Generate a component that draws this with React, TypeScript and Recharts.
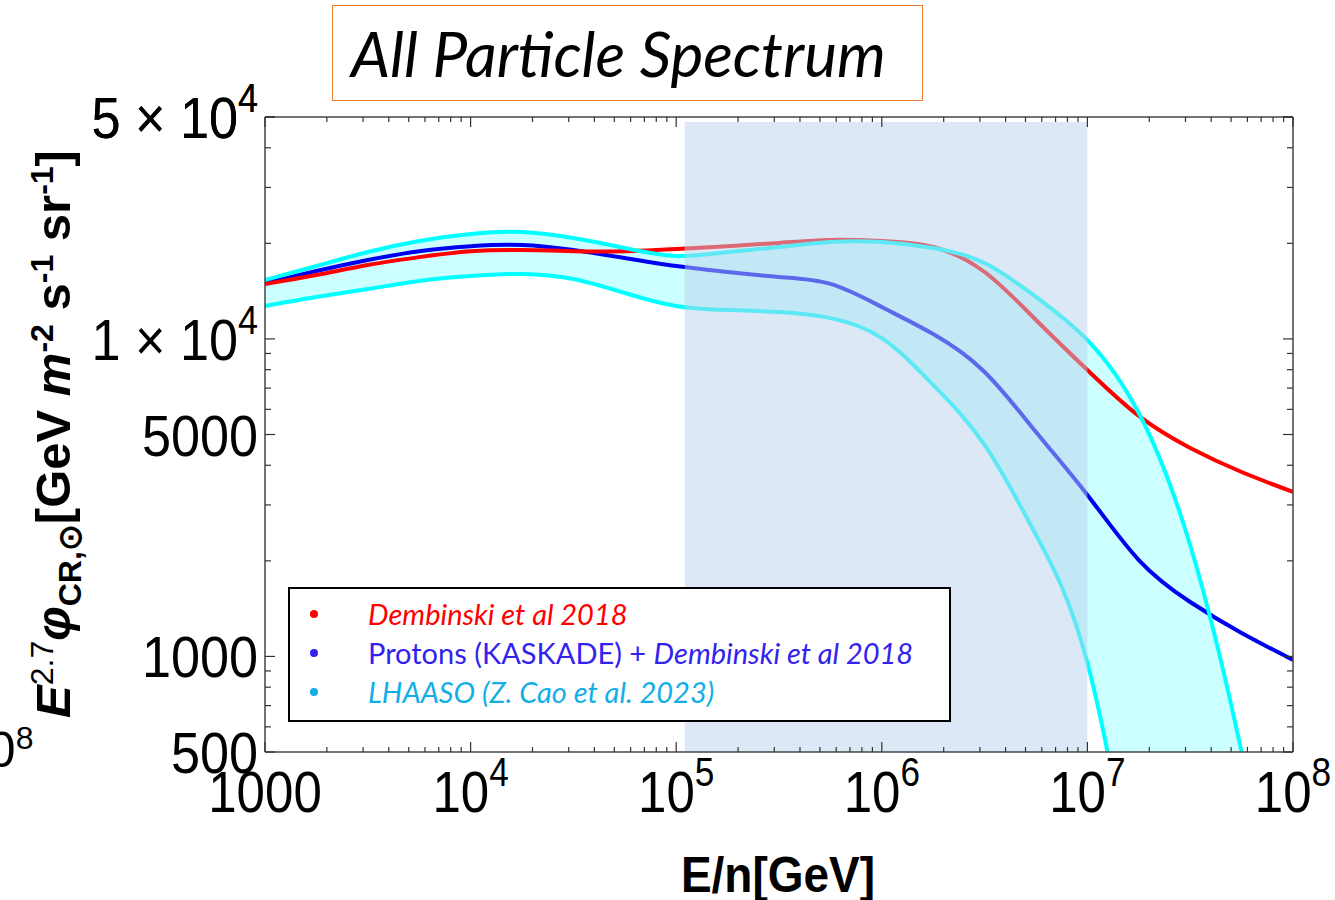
import { ComposedChart, Line, Area, XAxis, YAxis, ReferenceArea } from 'recharts';

// energy grid (GeV per nucleon), quarter-decade steps
const energy = [1000, 1778, 3162, 5623, 10000, 17783, 31623, 56234, 100000, 177828, 316228, 562341, 1000000, 1778279, 3162278, 5623413, 10000000, 17782794, 31622777, 56234133, 100000000];

// E^2.7 * flux
const dembinski = [14900, 15900, 17100, 18100, 18900, 19060, 18900, 18900, 19200, 19600, 20060, 20500, 20350, 19480, 16250, 11470, 7980, 5720, 4535, 3810, 3296];
const protons = [15000, 16370, 17720, 18900, 19600, 19770, 19060, 17980, 16970, 16250, 15660, 14900, 12600, 10360, 7870, 5090, 3225, 2012, 1484, 1185, 975];
const lhaasoHigh = [15330, 16970, 18780, 20350, 21400, 21720, 20800, 19340, 18250, 18780, 19480, 20200, 20200, 19340, 17340, 13560, 9920, 5845, 2240, 500, 77];
const lhaasoLow = [12700, 13560, 14360, 15220, 15780, 16010, 15440, 13950, 12700, 12330, 12150, 11630, 10060, 7160, 4635, 2413, 953, 148, 19, 2.2, 0.25];

// shaded energy window
const bandStart = 110000;
const bandEnd = 10000000;

const xMajor = [1000, 10000, 100000, 1000000, 10000000, 100000000];
const xMajorLabels = ['1000', '10^4', '10^5', '10^6', '10^7', '10^8'];
const yMajor = [500, 1000, 5000, 10000, 50000];
const yMajorLabels = ['500', '1000', '5000', '1 × 10^4', '5 × 10^4'];

const xTicks: number[] = [];
xMajor.slice(0, -1).forEach((m) => {
  for (let k = 1; k < 10; k++) xTicks.push(m * k);
});
xTicks.push(100000000);

const yTicks: number[] = [];
[100, 1000, 10000].forEach((m) => {
  for (let k = 1; k < 10; k++) {
    const v = m * k;
    if (v >= 500 && v <= 50000) yTicks.push(v);
  }
});
yTicks.push(50000);

const data = energy.map((e, i) => ({
  e,
  red: dembinski[i],
  blue: protons[i],
  hi: lhaasoHigh[i],
  lo: lhaasoLow[i],
}));

const tickFont = 'Liberation Sans, Arial, sans-serif';
const tickColor = '#333';

const renderLabel = (label: string, anchor: 'middle' | 'end') => {
  const parts = label.split('^');
  return (
    <text x={0} y={0} textAnchor={anchor} fontSize={58} fontFamily={tickFont} fill="#000">
      {parts[0]}
      {parts[1] && (
        <tspan dy={-26} fontSize={40}>
          {parts[1]}
        </tspan>
      )}
    </text>
  );
};

const XTickBottom = (props: any) => {
  const { x, y, payload } = props;
  const idx = xMajor.indexOf(payload.value);
  const major = idx >= 0;
  return (
    <g>
      <line x1={x} x2={x} y1={y} y2={y - (major ? 10 : 5)} stroke={tickColor} strokeWidth={1.2} />
      {major && <g transform={`translate(${x},${y + 60}) scale(0.88,1)`}>{renderLabel(xMajorLabels[idx], 'middle')}</g>}
    </g>
  );
};

const XTickTop = (props: any) => {
  const { x, y, payload } = props;
  const major = xMajor.includes(payload.value);
  return <line x1={x} x2={x} y1={y} y2={y + (major ? 10 : 5)} stroke={tickColor} strokeWidth={1.2} />;
};

const YTickLeft = (props: any) => {
  const { x, y, payload } = props;
  const idx = yMajor.indexOf(payload.value);
  const major = idx >= 0;
  return (
    <g>
      <line x1={x} x2={x + (major ? 10 : 6)} y1={y} y2={y} stroke={tickColor} strokeWidth={1.2} />
      {major && <g transform={`translate(${x - 7},${y + 21}) scale(0.9,1)`}>{renderLabel(yMajorLabels[idx], 'end')}</g>}
    </g>
  );
};

const YTickRight = (props: any) => {
  const { x, y, payload } = props;
  const major = yMajor.includes(payload.value);
  return <line x1={x} x2={x - (major ? 10 : 6)} y1={y} y2={y} stroke={tickColor} strokeWidth={1.2} />;
};

const legendItems = [
  { color: '#ff0000', parts: [{ t: 'Dembinski et al 2018', i: true }] },
  {
    color: '#3322ee',
    parts: [
      { t: 'Protons (KASKADE) + ', i: false },
      { t: 'Dembinski et al 2018', i: true },
    ],
  },
  { color: '#12aee8', parts: [{ t: 'LHAASO (Z. Cao et al. 2023)', i: true }] },
];

const axisLine = { stroke: '#444', strokeWidth: 1.5 };

const App = () => {
  return (
    <div style={{ position: 'absolute', left: 0, top: 0, width: 1335, height: 900, background: '#fff', overflow: 'hidden' }}>
      <ComposedChart
        width={1335}
        height={900}
        data={data}
        margin={{ top: 116, right: 41, bottom: 147, left: 264 }}
      >
        <XAxis
          dataKey="e"
          type="number"
          scale="log"
          domain={[1000, 100000000]}
          allowDataOverflow
          ticks={xTicks}
          interval={0}
          height={1}
          tickSize={0}
          tickMargin={0}
          tickLine={false}
          axisLine={axisLine}
          tick={<XTickBottom />}
        />
        <XAxis
          xAxisId="top"
          orientation="top"
          dataKey="e"
          type="number"
          scale="log"
          domain={[1000, 100000000]}
          allowDataOverflow
          ticks={xTicks}
          interval={0}
          height={1}
          tickSize={0}
          tickMargin={0}
          tickLine={false}
          axisLine={axisLine}
          tick={<XTickTop />}
        />
        <YAxis
          type="number"
          scale="log"
          domain={[500, 50000]}
          allowDataOverflow
          ticks={yTicks}
          interval={0}
          width={1}
          tickSize={0}
          tickMargin={0}
          tickLine={false}
          axisLine={axisLine}
          tick={<YTickLeft />}
        />
        <YAxis
          yAxisId="right"
          orientation="right"
          type="number"
          scale="log"
          domain={[500, 50000]}
          allowDataOverflow
          ticks={yTicks}
          interval={0}
          width={1}
          tickSize={0}
          tickMargin={0}
          tickLine={false}
          axisLine={axisLine}
          tick={<YTickRight />}
        />
        <Area
          type="natural"
          dataKey={(d: any) => [d.lo, d.hi]}
          stroke="none"
          fill="#ccffff"
          fillOpacity={1}
          isAnimationActive={false}
        />
        <Line type="natural" dataKey="blue" stroke="#0000ee" strokeWidth={4} dot={false} isAnimationActive={false} />
        <Line type="natural" dataKey="red" stroke="#ff0000" strokeWidth={4} dot={false} isAnimationActive={false} />
        <Line type="natural" dataKey="hi" stroke="#00ffff" strokeWidth={4} dot={false} isAnimationActive={false} />
        <Line type="natural" dataKey="lo" stroke="#00ffff" strokeWidth={4} dot={false} isAnimationActive={false} />
        <ReferenceArea
          x1={bandStart}
          x2={bandEnd}
          y1={500}
          y2={48200}
          fill="#bad2eb"
          fillOpacity={0.5}
          stroke="none"
          zIndex={450}
        />
      </ComposedChart>

      {/* title box */}
      <div
        style={{
          position: 'absolute',
          left: 332,
          top: 5,
          width: 571,
          height: 94,
          border: '1.5px solid #ed7d31',
          fontFamily: 'Lato, sans-serif',
          fontStyle: 'italic',
          fontSize: 62,
          lineHeight: '94px',
          paddingLeft: 18,
          boxSizing: 'content-box',
          color: '#000',
          whiteSpace: 'nowrap',
        }}
      >
        All Particle Spectrum
      </div>

      {/* y axis label */}
      <div
        style={{
          position: 'absolute',
          left: 56,
          top: 434,
          transform: 'translate(-50%, -50%) rotate(-90deg)',
          fontFamily: tickFont,
          fontWeight: 'bold',
          fontSize: 49,
          whiteSpace: 'nowrap',
          color: '#000',
          lineHeight: 1,
        }}
      >
        <i>E</i>
        <sup style={{ fontSize: 32, fontWeight: 'normal' }}>2.7</sup>
        <i>φ</i>
        <sub style={{ fontSize: 32 }}>CR,⊙</sub>[GeV <i>m</i>
        <sup style={{ fontSize: 32 }}>-2</sup> s<sup style={{ fontSize: 32 }}>-1</sup> sr
        <sup style={{ fontSize: 32 }}>-1</sup>]
      </div>

      {/* x axis label */}
      <div
        style={{
          position: 'absolute',
          left: 778,
          top: 853,
          transform: 'translateX(-50%) scale(0.92, 1)',
          fontFamily: tickFont,
          fontWeight: 'bold',
          fontSize: 50,
          whiteSpace: 'nowrap',
          color: '#000',
          lineHeight: 0.9,
        }}
      >
        E/n[GeV]
      </div>

      {/* cut-off label from neighbouring panel */}
      <div
        style={{
          position: 'absolute',
          left: -40,
          top: 722,
          fontFamily: tickFont,
          fontSize: 50,
          color: '#000',
          lineHeight: 1,
          whiteSpace: 'nowrap',
        }}
      >
        10<sup style={{ fontSize: 32 }}>8</sup>
      </div>

      {/* legend */}
      <div
        style={{
          position: 'absolute',
          left: 288,
          top: 587,
          width: 663,
          height: 135,
          border: '2px solid #000',
          background: '#fff',
          fontFamily: 'Lato, sans-serif',
          fontSize: 29,
          paddingTop: 5,
          boxSizing: 'border-box',
        }}
      >
        {legendItems.map((it, i) => (
          <div key={i} style={{ display: 'flex', alignItems: 'center', height: 39, color: it.color }}>
            <span
              style={{
                display: 'inline-block',
                width: 8,
                height: 8,
                borderRadius: 4,
                background: it.color,
                marginLeft: 20,
                marginRight: 50,
              }}
            />
            {it.parts.map((p, j) => (
              <span key={j} style={{ fontStyle: p.i ? 'italic' : 'normal', whiteSpace: 'pre' }}>
                {p.t}
              </span>
            ))}
          </div>
        ))}
      </div>
    </div>
  );
};

export default App;
